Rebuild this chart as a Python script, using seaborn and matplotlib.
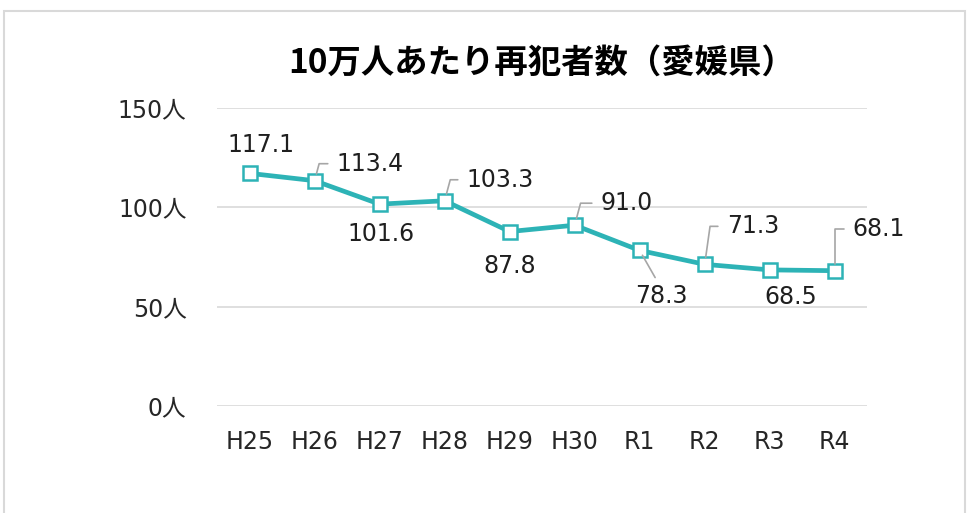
import matplotlib.pyplot as plt
import matplotlib.patches as mpatches
import numpy as np
import pandas as pd
import seaborn as sns

# data
years = ['H25', 'H26', 'H27', 'H28', 'H29', 'H30', 'R1', 'R2', 'R3', 'R4']
rate = [117.1, 113.4, 101.6, 103.3, 87.8, 91.0, 78.3, 71.3, 68.5, 68.1]
y_ticks = [0, 50, 100, 150]

# label offsets in pixels (dx, dy), alignment, leader line angle (None = no leader)
label_pos = [(11, 28, 'center', None),
             (22, 17, 'left', 75),
             (1, -30, 'center', None),
             (22, 21, 'left', 75),
             (0, -34, 'center', None),
             (26, 22, 'left', 75),
             (22, -46, 'center', -1),
             (22, 38, 'left', 82),
             (21, -27, 'center', None),
             (18, 42, 'left', 90)]

sns.set_style('white')
plt.rcParams['font.family'] = ['Noto Sans CJK JP', 'DejaVu Sans']
num_font = ['DejaVu Sans', 'Noto Sans CJK JP']

line_col = '#2DB3B6'
grid_col = '#D9D9D9'
lead_col = '#A6A6A6'
txt_col = '#1f1f1f'

df = pd.DataFrame({'year': years, 'rate': rate})
df['pos'] = np.arange(len(df))

fig = plt.figure(figsize=(9.69, 5.13), dpi=100)
ax = fig.add_axes([0.224, 0.2086, 0.671, 0.5809])

# outer frame
fig.patches.append(mpatches.Rectangle((4 / 969, -0.1), (961 / 969), (513 - 11) / 513 + 0.1,
                                      transform=fig.transFigure, fill=False,
                                      edgecolor=grid_col, lw=1.5))

sns.lineplot(data=df, x='pos', y='rate', ax=ax, color=line_col, lw=3.4,
             marker='s', markersize=10, markerfacecolor='white',
             markeredgecolor=line_col, markeredgewidth=1.8, zorder=3)

for i, (dx, dy, ha, lead) in enumerate(label_pos):
    txt = f'{rate[i]:.1f}'
    kw = dict(xy=(i, rate[i]), xytext=(dx, dy), textcoords='offset pixels',
              ha=ha, va='center', fontsize=17, color=txt_col, family=num_font)
    if lead is None:
        ax.annotate(txt, **kw)
    elif ha == 'left':
        ax.annotate(txt, **kw,
                    arrowprops=dict(arrowstyle='-', color=lead_col, lw=1.2,
                                    connectionstyle=f'angle,angleA=0,angleB={lead},rad=0',
                                    relpos=(0, 0.5), shrinkA=4, shrinkB=5))
    else:
        ax.annotate(txt, **kw,
                    arrowprops=dict(arrowstyle='-', color=lead_col, lw=1.2,
                                    relpos=(0.45, 1), shrinkA=3, shrinkB=4))

ax.set_xlim(-0.5, len(years) - 0.5)
ax.set_ylim(0, 150)
ax.set_yticks(y_ticks)
ax.set_yticklabels([f'{v}人' for v in y_ticks], fontsize=17, color='#262626', family=num_font)
ax.set_xticks(df['pos'])
ax.set_xticklabels(years, fontsize=17, color='#262626', family=num_font)
ax.tick_params(axis='both', length=0)
ax.tick_params(axis='y', pad=22)
ax.tick_params(axis='x', pad=17)
ax.grid(axis='y', color=grid_col, lw=1.2)
ax.set_axisbelow(True)
ax.set_xlabel('')
ax.set_ylabel('')
for s in ax.spines.values():
    s.set_visible(False)

fig.text(0.559, 0.877, '10万人あたり再犯者数（愛媛県）', ha='center', va='center',
         fontsize=24, fontweight='bold', color='#000000')

fig.savefig('out.png', dpi=100)
